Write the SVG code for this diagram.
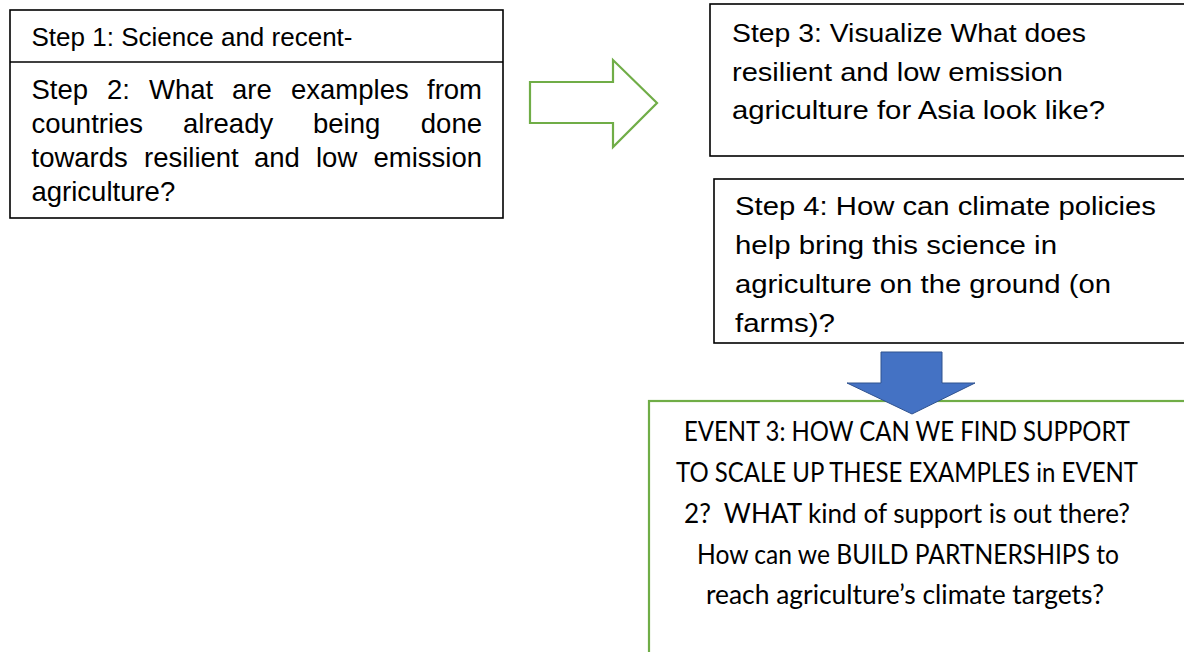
<svg xmlns="http://www.w3.org/2000/svg" width="1184" height="652" viewBox="0 0 1184 652">
<style>
.box{fill:#fff;stroke:#000;stroke-width:1.6}
.t{font-family:"Liberation Sans",Arial,sans-serif;font-size:26.5px;fill:#000}
.w{font-family:"Liberation Sans",Arial,sans-serif;font-size:27.5px;fill:#000}
.e{font-family:Lato,"Open Sans",sans-serif;font-size:26px;fill:#000;text-anchor:middle;white-space:pre}
</style>
<rect width="1184" height="652" fill="#fff"/>
<g id="step1-2">
<rect class="box" x="10" y="10" width="493" height="208"/>
<line x1="10" y1="62" x2="503" y2="62" stroke="#000" stroke-width="1.6"/>
<text class="t" x="31.5" y="46" textLength="321" lengthAdjust="spacingAndGlyphs">Step 1: Science and recent-</text>
<text class="w" y="99"><tspan x="31.5">Step</tspan><tspan x="107">2:</tspan><tspan x="149">What</tspan><tspan x="232">are</tspan><tspan x="291">examples</tspan><tspan x="482" text-anchor="end">from</tspan></text>
<text class="w" y="133"><tspan x="31.5">countries</tspan><tspan x="183">already</tspan><tspan x="313">being</tspan><tspan x="482" text-anchor="end">done</tspan></text>
<text class="w" y="167"><tspan x="31.5">towards</tspan><tspan x="144">resilient</tspan><tspan x="254">and</tspan><tspan x="316">low</tspan><tspan x="482" text-anchor="end">emission</tspan></text>
<text class="w" x="31.5" y="201">agriculture?</text>
</g>
<g id="step3">
<rect class="box" x="710" y="4" width="480" height="152"/>
<text class="t" x="732" y="42" textLength="354" lengthAdjust="spacingAndGlyphs">Step 3: Visualize What does</text>
<text class="t" x="732" y="81" textLength="331" lengthAdjust="spacingAndGlyphs">resilient and low emission</text>
<text class="t" x="732" y="119" textLength="373" lengthAdjust="spacingAndGlyphs">agriculture for Asia look like?</text>
</g>
<g id="step4">
<rect class="box" x="714" y="179" width="476" height="164"/>
<text class="t" x="735" y="215" textLength="421" lengthAdjust="spacingAndGlyphs">Step 4: How can climate policies</text>
<text class="t" x="735" y="254" textLength="322" lengthAdjust="spacingAndGlyphs">help bring this science in</text>
<text class="t" x="735" y="293" textLength="376" lengthAdjust="spacingAndGlyphs">agriculture on the ground (on</text>
<text class="t" x="735" y="332" textLength="100" lengthAdjust="spacingAndGlyphs">farms)?</text>
</g>
<g id="event3">
<rect x="649" y="401" width="560" height="280" fill="#fff" stroke="#70AD47" stroke-width="2.2"/>
<text class="e" x="907" y="441" textLength="446" lengthAdjust="spacingAndGlyphs">EVENT 3: HOW CAN WE FIND SUPPORT</text>
<text class="e" x="907" y="482" textLength="462" lengthAdjust="spacingAndGlyphs">TO SCALE UP THESE EXAMPLES in EVENT</text>
<text class="e" x="907" y="523" textLength="446" lengthAdjust="spacingAndGlyphs">2?  WHAT kind of support is out there?</text>
<text class="e" x="908" y="564" textLength="422" lengthAdjust="spacingAndGlyphs">How can we BUILD PARTNERSHIPS to</text>
<text class="e" x="905" y="604" textLength="398" lengthAdjust="spacingAndGlyphs">reach agriculture’s climate targets?</text>
</g>
<g id="connectors">
<polygon points="530,82 613,82 613,60 657,103 613,147 613,123 530,123" fill="#fff" stroke="#70AD47" stroke-width="2.2" stroke-linejoin="miter"/>
<polygon points="881,352 942,352 942,383 975,383 912,414 847,383 881,383" fill="#4472C4" stroke="#2F528F" stroke-width="1"/>
</g>
</svg>
